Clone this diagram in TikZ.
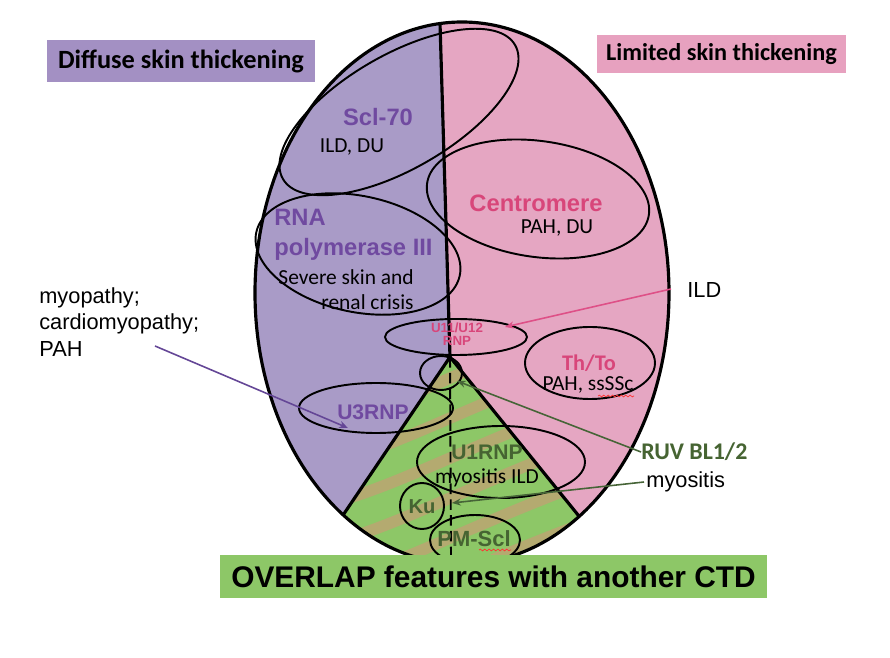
\documentclass[tikz,border=0pt]{standalone}
\usepackage{fontspec}
\setmainfont{Carlito}
\newfontfamily\arialfont{Liberation Sans}
\usepackage{tikz}
\usetikzlibrary{arrows.meta, positioning, decorations.pathmorphing}
\usepackage{xcolor}

\definecolor{diffuse}{RGB}{169,155,199}
\definecolor{diffusebox}{RGB}{163,144,195}
\definecolor{limited}{RGB}{229,166,194}
\definecolor{limitedbox}{RGB}{231,161,191}
\definecolor{overlap}{RGB}{141,199,103}
\definecolor{stripe}{RGB}{180,170,112}
\definecolor{purpletext}{RGB}{112,74,160}
\definecolor{pinktext}{RGB}{216,70,122}
\definecolor{greentext}{RGB}{70,100,50}
\definecolor{purpleline}{RGB}{100,70,150}
\definecolor{pinkline}{RGB}{222,80,135}
\definecolor{greenline}{RGB}{70,100,55}

\begin{document}
\begin{tikzpicture}[
    x=0.02cm, y=-0.02cm,
    outer line/.style={line width=1.8pt},
    subset/.style={line width=1.1pt},
    antibody/.style={font=\arialfont\bfseries\fontsize{13.5}{17}\selectfont, inner sep=0pt},
    feature/.style={font=\fontsize{12.2}{14}\selectfont, inner sep=0pt},
    side note/.style={font=\arialfont\fontsize{12.4}{15}\selectfont, inner sep=0pt, align=left},
    skin box/.style={font=\bfseries\fontsize{14.5}{17}\selectfont, inner sep=0pt},
    pointer/.style={line width=0.9pt, -{Stealth[length=5pt, width=4pt]}}
]
    \useasboundingbox (0,0) rectangle (890,658);
    \coordinate (apex) at (450,357);

    % --- Regions inside the big ellipse ---
    \begin{scope}
        \clip (462,293) ellipse [x radius=207, y radius=271];
        \fill[diffuse] (0,0) -- (439.3,0) -- (apex) -- (218,700) -- (0,700) -- cycle;
        \fill[limited] (890,0) -- (439.3,0) -- (apex) -- (728,700) -- (890,700) -- cycle;
        \fill[overlap] (apex) -- (218,700) -- (728,700) -- cycle;
        \begin{scope}
            \clip (apex) -- (218,700) -- (728,700) -- cycle;
            \foreach \y in {370,410,...,650}
                \draw[stripe, line width=6.5pt] (300,\y+60) .. controls (390,\y+45) and (470,\y-10) .. (650,\y-70);
        \end{scope}
        \draw[outer line] (218,700) -- (apex) -- (728,700);
        \draw[outer line] (440,23) -- (apex);
    \end{scope}
    \draw[outer line] (462,293) ellipse [x radius=207, y radius=271];

    % --- Antibody subsets ---
    \draw[subset, rotate around={30:(399,112)}] (399,112) ellipse [x radius=134, y radius=57];
    \draw[subset, rotate around={-8:(538,199)}] (538,199) ellipse [x radius=112, y radius=58];
    \draw[subset, rotate around={-12:(358,254)}] (358,254) ellipse [x radius=104, y radius=58];
    \draw[subset] (456,337) ellipse [x radius=71, y radius=18];
    \draw[subset] (441,373) ellipse [x radius=21, y radius=17];
    \draw[subset] (376,408) ellipse [x radius=77, y radius=25];
    \draw[subset] (590,363) ellipse [x radius=65, y radius=36];
    \draw[subset] (501,462) ellipse [x radius=84, y radius=36];
    \draw[subset] (422,506) ellipse [x radius=22, y radius=23];
    \draw[subset] (475,540) ellipse [x radius=45, y radius=25];
    \draw[subset, dashed, dash pattern=on 6pt off 3pt] (apex) -- (451,556);

    % --- Labels ---
    \node[antibody, text=purpletext] (scl) at (378,117) {Scl-70};
    \node[feature] (sclnote) at (352,147) {ILD, DU};
    \node[antibody, text=pinktext] (centro) at (536,203) {Centromere};
    \node[feature] (centronote) at (557,228) {PAH, DU};
    \node[antibody, text=purpletext, anchor=west, align=left] (rnap) at (274,235) {RNA\\polymerase III};
    \node[feature, anchor=east, align=right, font=\fontsize{12.2}{14.2}\selectfont] (rnapnote) at (414,290) {Severe skin and\\renal crisis};
    \node[antibody, text=pinktext, align=center, font=\arialfont\bfseries\fontsize{7.6}{7.6}\selectfont] (u11) at (457,334) {U11/U12\\RNP};
    \node[feature, text=pinktext, font=\bfseries\fontsize{12.7}{14}\selectfont] (thto) at (589,363) {Th/To};
    \node[feature] (thtonote) at (588,385) {PAH, ssSSc};
    \node[antibody, text=purpletext, font=\arialfont\bfseries\fontsize{12}{14}\selectfont] (u3) at (373,412) {U3RNP};
    \node[antibody, text=greentext, font=\arialfont\bfseries\fontsize{12}{14}\selectfont] (u1) at (487,452) {U1RNP};
    \node[feature] (u1note) at (487,478) {myositis ILD};
    \node[antibody, text=greentext, font=\arialfont\bfseries\fontsize{11.5}{14}\selectfont] (ku) at (422,507) {Ku};
    \node[antibody, text=greentext, font=\arialfont\bfseries\fontsize{12.5}{14}\selectfont] (pmscl) at (474,539) {PM-Scl};

    % --- Skin and overlap headings ---
    \node[skin box, fill=diffusebox, minimum width=5.36cm, minimum height=0.84cm, font=\bfseries\fontsize{15}{17}\selectfont] (diffusehead) at (181,61) {Diffuse skin thickening};
    \node[skin box, fill=limitedbox, minimum width=4.98cm, minimum height=0.76cm, font=\bfseries\fontsize{13.8}{16}\selectfont] (limitedhead) at (721.5,54) {Limited skin thickening};
    \node[fill=overlap, minimum width=10.94cm, minimum height=0.86cm, inner sep=0pt, font=\arialfont\bfseries\fontsize{17}{19}\selectfont] (overlaphead) at (493.5,576.5) {OVERLAP features with another CTD};

    % --- Side notes and pointers ---
    \node[side note, anchor=west, font=\arialfont\fontsize{12.4}{15}\selectfont] (myopathy) at (39,322) {myopathy;\\cardiomyopathy;\\PAH};
    \node[side note, anchor=west] (ild) at (687,290) {ILD};
    \node[feature, anchor=west, text=greentext, font=\bfseries\fontsize{13.6}{15}\selectfont] (ruv) at (641,452) {RUV BL1/2};
    \node[side note, anchor=west] (myositis) at (646,482) {myositis};

    \coordinate (myostart) at (155,346);
    \coordinate (u3tip) at (348,428);
    \coordinate (u11tip) at (505,327);
    \coordinate (ruvtip) at (457,381);
    \coordinate (kutip) at (452,503);
    \draw[pointer, purpleline] (myostart) -- (u3tip);
    \draw[pointer, pinkline] (ild.west) ++(-16,-1) -- (u11tip);
    \draw[pointer, greenline] (ruv.west) -- (ruvtip);
    \draw[pointer, greenline] (myositis.west) ++(-2,0) -- (kutip);

    % spell-check marks
    \draw[red!80, line width=0.4pt, decorate, decoration={snake, amplitude=0.5pt, segment length=2.5pt}] (598,396) -- (634,396);
    \draw[red!80, line width=0.4pt, decorate, decoration={snake, amplitude=0.5pt, segment length=2.5pt}] (479,550) -- (511,550);
\end{tikzpicture}
\end{document}
